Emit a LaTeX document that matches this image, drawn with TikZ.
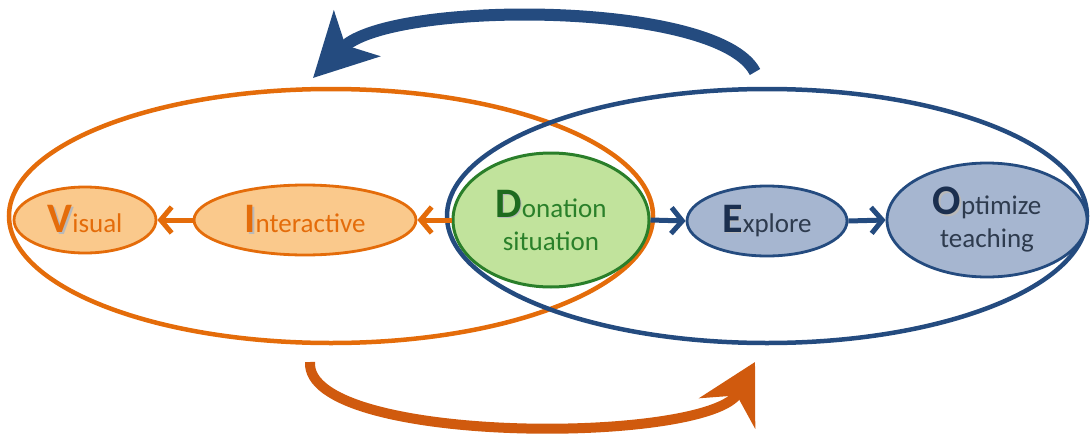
\documentclass[tikz,border=0pt]{standalone}
\usepackage{fontspec}
\setmainfont{Carlito}
\usetikzlibrary{shapes.geometric,arrows.meta}
\definecolor{orline}{HTML}{E46C0A}
\definecolor{orfill}{HTML}{FAC98C}
\definecolor{ortext}{HTML}{E46C0A}
\definecolor{orarrow}{HTML}{D05A0E}
\definecolor{blline}{HTML}{244B7F}
\definecolor{blfill}{HTML}{A6B6D0}
\definecolor{bltext}{HTML}{2E3B4E}
\definecolor{blbig}{HTML}{1B2F4F}
\definecolor{grline}{HTML}{2A7F2A}
\definecolor{grfill}{HTML}{C1E39C}
\definecolor{grtext}{HTML}{2A802A}
\definecolor{grbig}{HTML}{1E6B1E}
\definecolor{shadowc}{HTML}{8A8A8A}
\newcommand{\initial}[2]{{\fontsize{42}{42}\selectfont\bfseries\makebox[0pt][l]{\kern1.5pt\raisebox{-1.5pt}{\color{shadowc!60}#2}}{\color{#1}#2}}}
\tikzset{
  big/.style={ellipse, draw, line width=4.5pt, inner sep=0pt},
  small/.style={ellipse, draw, line width=2.8pt, inner sep=0pt, align=center,
    font=\fontsize{27}{31}\selectfont},
  ostep/.style={small, draw=orline, fill=orfill, text=ortext},
  bstep/.style={small, draw=blline, fill=blfill, text=bltext},
  oarr/.style={draw=orline, line width=5pt, -{Straight Barb[length=11pt,width=26pt]}},
  barr/.style={draw=blline, line width=5pt, -{Straight Barb[length=11pt,width=26pt]}},
}
\begin{document}
\begin{tikzpicture}[x=1pt,y=-1pt]
\useasboundingbox (0,0) rectangle (1091,436);
% big ellipses
\node[big, draw=orline, minimum width=644pt, minimum height=254pt] (obig) at (331,216) {};
\node[big, draw=blline, minimum width=640pt, minimum height=254pt] (bbig) at (767,216) {};
% small nodes
\node[ostep, minimum width=142pt, minimum height=66pt] (vis) at (85,220) {\initial{ortext}{V}isual};
\node[ostep, minimum width=222pt, minimum height=70pt] (int) at (305,220) {\initial{ortext}{I}nteractive};
\node[small, draw=grline, fill=grfill, text=grtext, line width=3pt, minimum width=196pt, minimum height=134pt] (don) at (551,220) {\initial{grbig}{D}onation\\[2pt]situation};
\node[bstep, minimum width=160pt, minimum height=70pt] (exp) at (767,221) {\initial{blbig}{E}xplore};
\node[bstep, minimum width=200pt, minimum height=114pt] (opt) at (987,220) {\initial{blbig}{O}ptimize\\[2pt]teaching};
% chain arrows
\draw[oarr] (int.west) -- (vis.east);
\draw[oarr] (don.west) -- (int.east);
\draw[barr] (don.east) -- (exp.west);
\draw[barr] (exp.east) -- (opt.west);
% cycle arrows
\coordinate (ts) at (755,72);
\coordinate (te) at (313,78);
\draw[draw=blline, line width=12pt, -{Stealth[length=62pt,width=64pt,inset=16pt]}]
  (ts) .. controls (718,0) and (390,0) .. (te);
\coordinate (bs) at (310,362);
\coordinate (be) at (755,362);
\draw[draw=orarrow, line width=10pt, -{Stealth[length=58pt,width=63pt,inset=20pt]}]
  (bs) .. controls (305,445) and (710,445) .. (be);
\end{tikzpicture}
\end{document}
